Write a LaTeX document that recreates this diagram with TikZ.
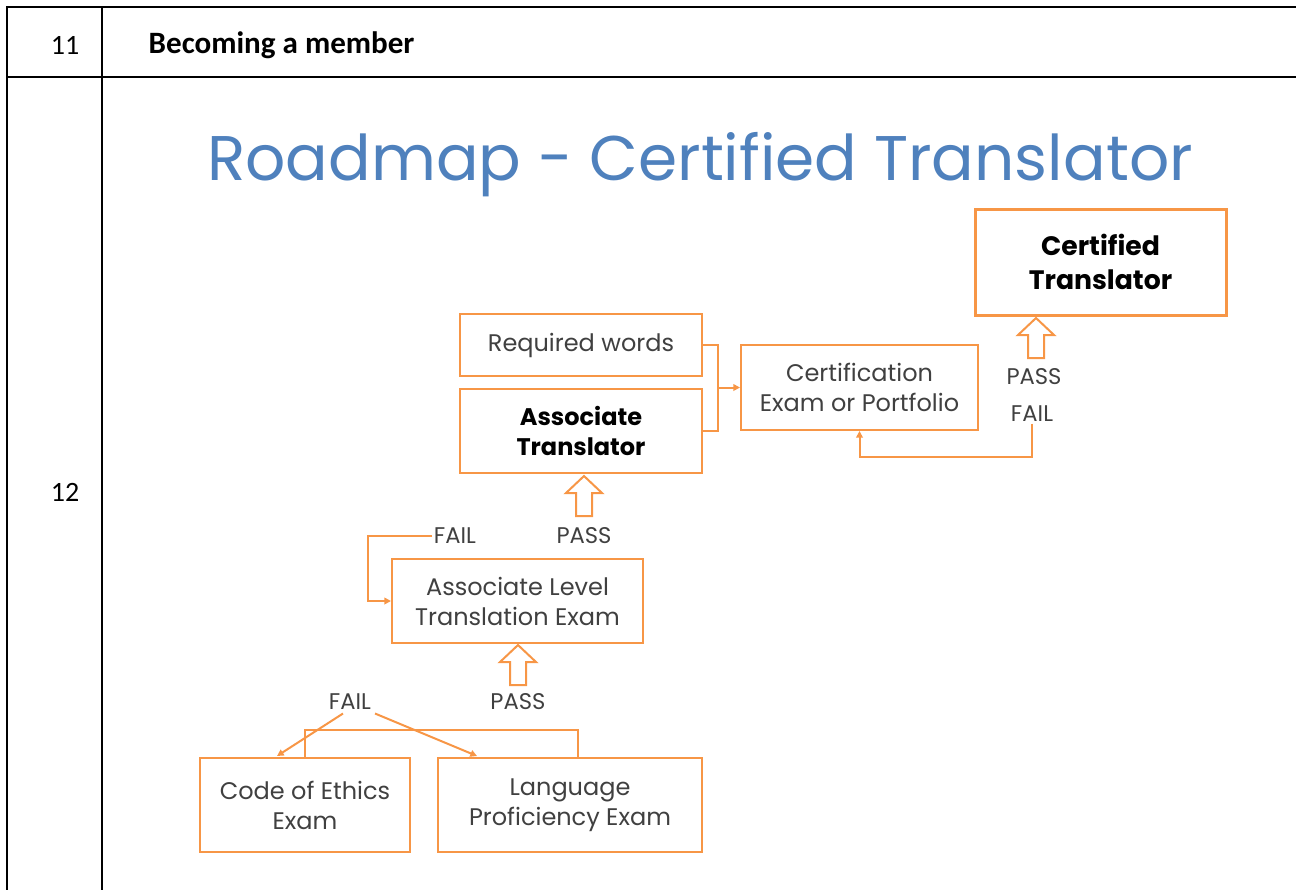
\documentclass[tikz,border=0pt]{standalone}
\usepackage{fontspec}
\setmainfont{Poppins}
\newfontfamily\tablefont{Carlito}
\usetikzlibrary{arrows.meta,calc}
\definecolor{orng}{HTML}{F79646}
\definecolor{ttlblue}{HTML}{4F81BD}
\definecolor{txtgray}{HTML}{404040}

\begin{document}
\begin{tikzpicture}[x=0.75pt,y=-0.75pt,
  rule/.style={line width=1.5pt,black},
  flowbox/.style={draw=orng,line width=1.5pt,inner sep=0pt,align=center,
    text=txtgray,font=\fontsize{18}{22.5}\selectfont},
  keybox/.style={flowbox,text=black,font=\bfseries\fontsize{18}{22.5}\selectfont},
  goalbox/.style={flowbox,line width=2.25pt,text=black,font=\bfseries\fontsize{20}{26}\selectfont},
  verdict/.style={inner sep=1pt,text=txtgray,font=\fontsize{17}{20}\selectfont},
  link/.style={draw=orng,line width=1.5pt},
  tolink/.style={link,-{Triangle[length=5pt,width=5pt]}},
  blockup/.pic={\draw[orng,line width=1.5pt,line join=miter,fill=white]
    (0,0) -- (18,17) -- (8,17) -- (8,40) -- (-8,40) -- (-8,17) -- (-18,17) -- cycle;}
]
\useasboundingbox (0,0) rectangle (1296,890);

% table rules
\draw[rule] (6.25,7) -- (1296,7);
\draw[rule] (6.25,77) -- (1296,77);
\draw[rule] (7,6.25) -- (7,890);
\draw[rule] (102,7) -- (102,890);

\node[font=\tablefont\fontsize{21}{25}\selectfont] (n11) at (65,45) {11};
\node[anchor=west,font=\tablefont\bfseries\fontsize{23.3}{28}\selectfont] (hdr) at (144,45) {Becoming a member};
\node[font=\tablefont\fontsize{21}{25}\selectfont] (n12) at (65,492) {12};

% title
\node[anchor=base,text=ttlblue,font=\fontsize{47.3}{52}\selectfont] (ttl) at (700,180) {Roadmap - Certified Translator};

% boxes
\node[flowbox,minimum width={242*0.75pt},minimum height={62*0.75pt}] (reqw) at (581,345) {Required words};
\node[keybox,minimum width={242*0.75pt},minimum height={84*0.75pt}] (assoc) at (581,431) {Associate\\Translator};
\node[flowbox,minimum width={237*0.75pt},minimum height={85*0.75pt}] (cert) at (859.5,387.5) {Certification\\Exam or Portfolio};
\node[goalbox,minimum width={251*0.75pt},minimum height={106*0.75pt}] (certd) at (1100.5,262) {Certified\\Translator};
\node[flowbox,minimum width={251*0.75pt},minimum height={84*0.75pt}] (alte) at (517.5,601) {Associate Level\\Translation Exam};
\node[flowbox,minimum width={210*0.75pt},minimum height={94*0.75pt}] (coe) at (305,805) {Code of Ethics\\Exam};
\node[flowbox,minimum width={264*0.75pt},minimum height={94*0.75pt}] (lpe) at (570,805) {Language\\Proficiency Exam};

% verdict labels
\node[verdict] (passc) at (1034,377) {PASS};
\node[verdict] (failc) at (1032,414) {FAIL};
\node[verdict] (passa) at (584,536) {PASS};
\node[verdict] (faila) at (455,536) {FAIL};
\node[verdict] (passl) at (518,702) {PASS};
\node[verdict] (faill) at (350,702) {FAIL};

% hollow up arrows for passing
\pic at (1036,318) {blockup};
\pic at (584,476) {blockup};
\pic at (518,645) {blockup};

% prerequisites feed the certification step
\coordinate (jn) at (718,387.5);
\draw[link] (reqw.east) -| (jn) |- (assoc.east);
\draw[tolink] (jn) -- (cert.west);

% failing the certification loops back
\coordinate (loopc) at (1032,457);
\draw[tolink] (failc.south) -- (loopc) -| (cert.south);

% failing the associate exam loops back
\coordinate (loopa) at (368,536);
\draw[tolink] (faila.west) -- (loopa) |- (alte.west);

% both entry exams are needed
\coordinate (brl) at (305,730);
\coordinate (brr) at (578,730);
\draw[link] (coe.north) -- (brl) -- (brr) -- (brr |- lpe.north);

% failing an entry exam sends back to it
\draw[tolink] ($(faill.south)+(-7,2)$) -- ($(coe.north)+(-28,-1)$);
\draw[tolink] ($(faill.south)+(25,2)$) -- ($(lpe.north)+(-93,-1)$);
\end{tikzpicture}
\end{document}
